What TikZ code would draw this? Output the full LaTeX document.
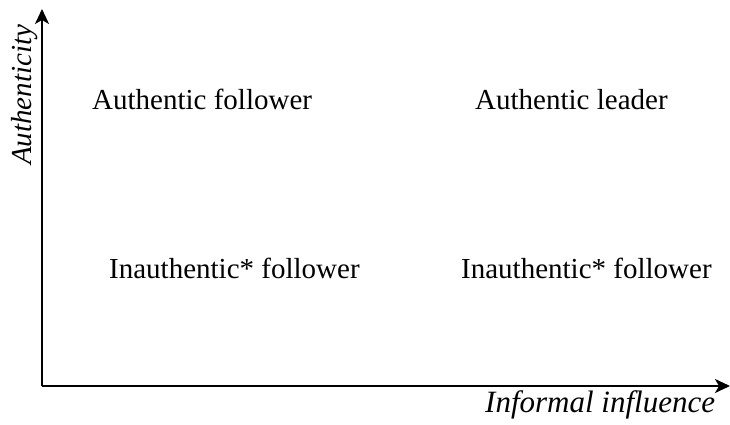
\documentclass[tikz,border=0pt]{standalone}
\usepackage{fontspec}
\setmainfont{Liberation Serif}
\usetikzlibrary{arrows.meta}
\begin{document}
\begin{tikzpicture}[x=1pt,y=-1pt,
  lbl/.style={inner sep=0pt,anchor=base west,font=\fontsize{29}{34}\selectfont},
  axis/.style={line width=2pt,-{Stealth[length=15pt,width=14pt,inset=4pt]}}]
\useasboundingbox (0,0) rectangle (730,425);
\coordinate (o) at (42,386);
\coordinate (ytip) at (42,9);
\coordinate (xtip) at (730,386);
\draw[axis] (o) -- (ytip);
\draw[axis] (o) -- (xtip);
\node[lbl] (af) at (92,110) {Authentic follower};
\node[lbl] (al) at (475,110) {Authentic leader};
\node[lbl] (if1) at (109,278) {Inauthentic* follower};
\node[lbl] (if2) at (461,278) {Inauthentic* follower};
\node[lbl,font=\fontsize{31}{36}\selectfont\itshape] (xl) at (485,412) {Informal influence};
\node[lbl,font=\fontsize{29}{34}\selectfont\itshape,rotate=90] (yl) at (31,165) {Authenticity};
\end{tikzpicture}
\end{document}
